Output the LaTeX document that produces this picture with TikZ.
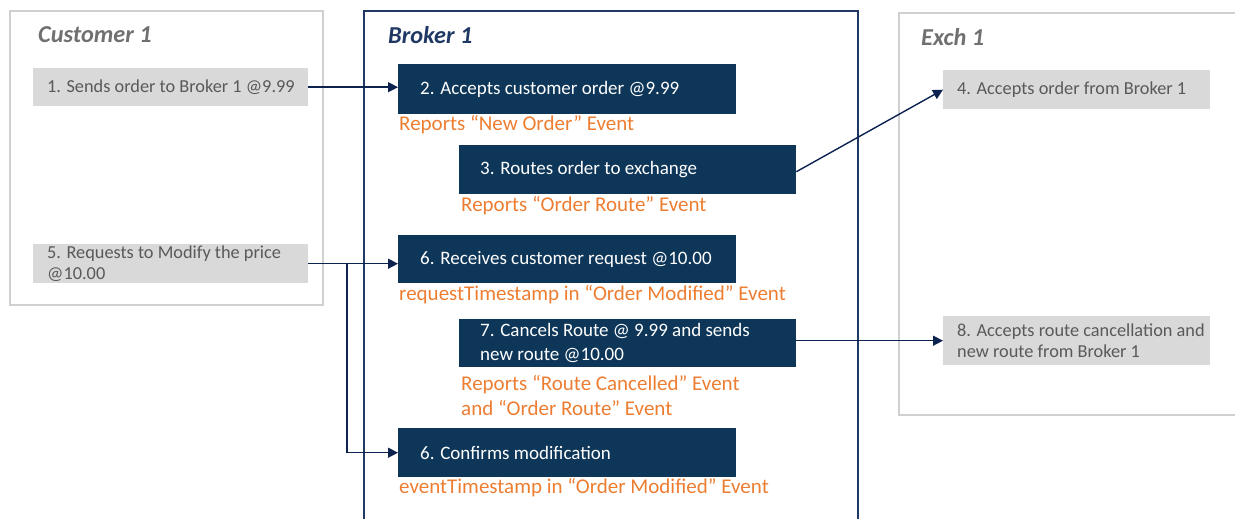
\documentclass[tikz,border=0pt]{standalone}
\usepackage{fontspec}
\setmainfont{Carlito}
\usetikzlibrary{arrows.meta}
\definecolor{navyfill}{HTML}{0E3659}
\definecolor{navyline}{HTML}{1F3864}
\definecolor{arrowc}{HTML}{0C2350}
\definecolor{grayfill}{HTML}{D9D9D9}
\definecolor{grayline}{HTML}{D0D0D0}
\definecolor{graytext}{HTML}{595959}
\definecolor{titlegray}{HTML}{707070}
\definecolor{orangec}{HTML}{ED7D31}
\tikzset{
  gbox/.style={fill=grayfill, draw=none, anchor=north west, inner sep=0pt},
  nbox/.style={fill=navyfill, draw=none, anchor=north west, inner sep=0pt},
  gtxt/.style={anchor=west, align=left, inner sep=0pt, text=graytext, font=\fontsize{18.3}{21.5}\selectfont},
  ntxt/.style={anchor=west, align=left, inner sep=0pt, text=white, font=\fontsize{19}{24}\selectfont},
  otxt/.style={anchor=west, align=left, inner sep=0pt, text=orangec, font=\fontsize{21}{25}\selectfont},
  ttl/.style={anchor=west, inner sep=0pt, font=\fontsize{24.3}{26}\selectfont\bfseries\itshape},
  arr/.style={draw=arrowc, line width=1.4pt, -{Triangle[length=10pt,width=10pt]}},
  frame/.style={line width=2pt}
}
\begin{document}
\begin{tikzpicture}[x=1pt,y=-1pt]
\useasboundingbox (0,0) rectangle (1235,519);
\clip (0,0) rectangle (1235,519);
% frames
\draw[frame, draw=grayline] (10,11) rectangle (323,305);
\draw[frame, draw=navyline] (364,11) rectangle (858,540);
\draw[frame, draw=grayline] (899,13) rectangle (1250,415);
% titles
\node[ttl, text=titlegray] (tc) at (38,35) {Customer 1};
\node[ttl, text=navyline] (tb) at (388,35) {Broker 1};
\node[ttl, text=titlegray] (te) at (921,37) {Exch 1};
% customer boxes
\node[gbox, minimum width=275pt, minimum height=38pt] (c1) at (33,68) {};
\node[gtxt] (c1t) at ([xshift=14pt]c1.west) {1. Sends order to Broker 1 @9.99};
\node[gbox, minimum width=275pt, minimum height=39pt] (c5) at (33,244) {};
\node[gtxt] (c5t) at ([xshift=14pt]c5.west) {5. Requests to Modify the price\\@10.00};
% exchange boxes
\node[gbox, minimum width=267pt, minimum height=39pt] (x4) at (943,70) {};
\node[gtxt] (x4t) at ([xshift=14pt]x4.west) {4. Accepts order from Broker 1};
\node[gbox, minimum width=267pt, minimum height=49pt] (x8) at (943,316) {};
\node[gtxt] (x8t) at ([xshift=14pt]x8.west) {8. Accepts route cancellation and\\new route from Broker 1};
% broker boxes
\node[nbox, minimum width=338pt, minimum height=50pt] (b2) at (398,64) {};
\node[ntxt] (b2t) at ([xshift=22pt]b2.west) {2. Accepts customer order @9.99};
\node[nbox, minimum width=337pt, minimum height=49pt] (b3) at (459,145) {};
\node[ntxt] (b3t) at ([xshift=21pt]b3.west) {3. Routes order to exchange};
\node[nbox, minimum width=338pt, minimum height=48pt] (b6a) at (398,235) {};
\node[ntxt] (b6at) at ([xshift=22pt]b6a.west) {6. Receives customer request @10.00};
\node[nbox, minimum width=337pt, minimum height=48pt] (b7) at (459,319) {};
\node[ntxt] (b7t) at ([xshift=21pt]b7.west) {7. Cancels Route @ 9.99 and sends\\new route @10.00};
\node[nbox, minimum width=338pt, minimum height=49pt] (b6b) at (398,428) {};
\node[ntxt] (b6bt) at ([xshift=22pt]b6b.west) {6. Confirms modification};
% orange labels
\node[otxt] (o2) at (399,125) {Reports “New Order” Event};
\node[otxt] (o3) at (461,206) {Reports “Order Route” Event};
\node[otxt] (o6a) at (399,295) {requestTimestamp in “Order Modified” Event};
\node[otxt] (o7) at (461,396) {Reports “Route Cancelled” Event\\and “Order Route” Event};
\node[otxt] (o6b) at (399,488) {eventTimestamp in “Order Modified” Event};
% arrows
\draw[arr] (c1.east) -- (c1.east -| b2.west);
\draw[arr] ([yshift=-2pt]b3.east) -- (x4.west);
\draw[arr] (x8.west -| b7.east) -- (x8.west);
\draw[arr] (c5.east) -- (c5.east -| b6a.west);
\coordinate (split) at (347,263.5);
\draw[arr] (split) |- (b6b.west);
\end{tikzpicture}
\end{document}
